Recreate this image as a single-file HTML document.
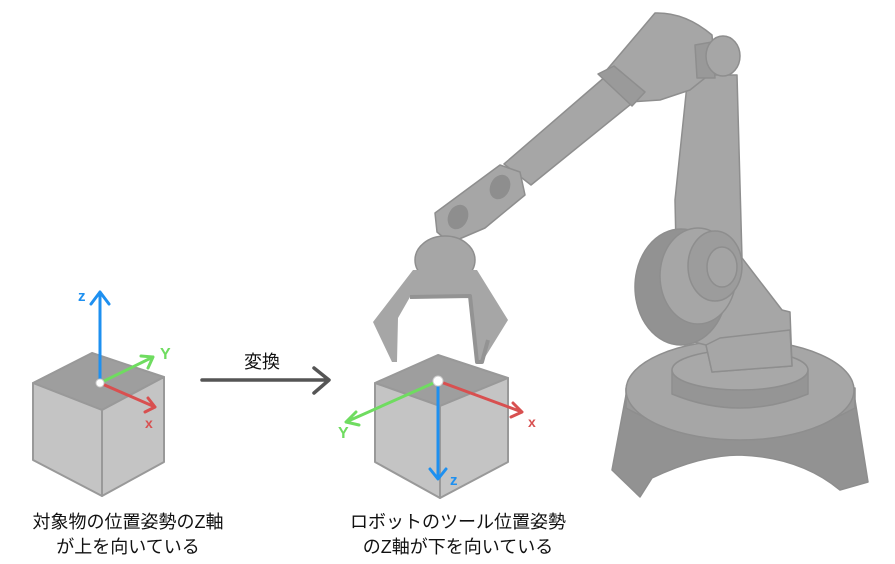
<!DOCTYPE html>
<html><head><meta charset="utf-8"><style>
html,body{margin:0;padding:0;background:#fff;width:895px;height:564px;overflow:hidden}
svg{display:block}
text{font-family:"Liberation Sans","Noto Sans CJK JP",sans-serif}
</style></head><body>
<svg width="895" height="564" viewBox="0 0 895 564" xmlns="http://www.w3.org/2000/svg">
<g stroke="#8e8e8e" stroke-width="1.5" stroke-linejoin="round">
<!-- legs -->
<path d="M626 395 L612 470 L640 497 L652 478 Q700 455 740 455 Q800 457 840 490 L868 482 L855 400 Z" fill="#929292"/>
<!-- base rim -->
<path d="M626 388 L626 408 Q740 470 855 408 L855 388 Z" fill="#999"/>
<ellipse cx="740" cy="390" rx="114" ry="50" fill="#a6a6a6"/>
<path d="M672 370 L672 394 Q740 422 808 394 L808 370 Z" fill="#959595"/>
<ellipse cx="740" cy="370" rx="68" ry="20" fill="#a8a8a8"/>
<!-- tower -->
<path d="M688 75 L737 75 L742 258 L782 310 L790 312 L792 366 L712 372 L706 345 L678 338 L675 200 Z" fill="#a6a6a6"/>
<ellipse cx="681" cy="287" rx="46" ry="58" fill="#929292"/>
<path d="M712 372 L706 345 L720 338 L790 330 L792 366 Z" fill="#a6a6a6"/>
<ellipse cx="698" cy="276" rx="38" ry="48" fill="#a6a6a6"/>
<ellipse cx="715" cy="266" rx="27" ry="35" fill="#9c9c9c"/>
<ellipse cx="722" cy="267" rx="15" ry="20" fill="#a4a4a4"/>
<!-- shoulder -->
<path d="M605 72 L655 13 Q685 12 712 35 L715 70 L690 90 L660 100 L630 102 Z" fill="#a6a6a6"/>
<path d="M695 45 L712 42 L715 78 L697 78 Z" fill="#999"/>
<ellipse cx="723" cy="56" rx="17" ry="20" fill="#a6a6a6"/>
<!-- upper arm tube -->
<path d="M606 76 L636 100 L531 185 L504 164 Z" fill="#a6a6a6"/>
<path d="M598 74 L614 66 L645 92 L632 106 Z" fill="#9a9a9a"/>
<!-- forearm link -->
<path d="M435 213 L500 165 L520 172 L525 195 L485 228 L450 243 L437 232 Z" fill="#a6a6a6"/>
<ellipse cx="500" cy="187" rx="9" ry="12" fill="#8e8e8e" transform="rotate(25 500 187)"/>
<ellipse cx="458" cy="217" rx="9" ry="12" fill="#8e8e8e" transform="rotate(25 458 217)"/>
<ellipse cx="445" cy="260" rx="30" ry="24" fill="#a6a6a6"/>
<!-- gripper -->
<path d="M413 270 L477 270 L508 320 L482 362 L477 362 L470 298 L410 297 L398 318 L397 362 L392 362 L373 322 Z" fill="#a6a6a6" stroke="none"/>
<path d="M410 297 L470 296 L477 362 L482 362 L488 340" fill="none" stroke="#939393" stroke-width="4"/>
</g>
<!-- left cube -->
<g stroke="#999" stroke-width="2" stroke-linejoin="round">
<path d="M33 383 L92 353 L164 377 L102 410 Z" fill="#9e9e9e"/>
<path d="M33 383 L102 410 L102 496 L33 460 Z" fill="#c4c4c4"/>
<path d="M102 410 L164 377 L164 462 L102 496 Z" fill="#c4c4c4"/>
</g>
<g stroke-width="3" stroke-linecap="round" stroke-linejoin="round" fill="none">
<path d="M100 383 L100 292 M91 304 L100 292 L109 304" stroke="#1e90f0"/>
<path d="M100 383 L153 357 M141 356 L153 357 L148 368" stroke="#6fdc60"/>
<path d="M100 383 L155 407 M148 398 L155 407 L145 412" stroke="#d85050"/>
</g>
<circle cx="100" cy="383" r="4" fill="#fff" stroke="#ccc"/>
<text x="78" y="301" font-size="15" fill="#1e90f0" font-weight="bold">z</text>
<text x="160" y="359" font-size="16" fill="#6fdc60" font-weight="bold">Y</text>
<text x="145" y="428" font-size="14" fill="#d85050" font-weight="bold">x</text>
<!-- transform arrow -->
<path d="M202 380 L328 380 M314 368 L329 380 L314 393" stroke="#555" stroke-width="3.5" fill="none" stroke-linecap="round" stroke-linejoin="round"/>
<text x="262" y="368" font-size="18" fill="#111" text-anchor="middle">変換</text>
<!-- right cube -->
<g stroke="#999" stroke-width="2" stroke-linejoin="round">
<path d="M375 383 L438 355 L508 378 L440 406 Z" fill="#9e9e9e"/>
<path d="M375 383 L440 406 L440 498 L375 462 Z" fill="#c4c4c4"/>
<path d="M440 406 L508 378 L508 462 L440 498 Z" fill="#c4c4c4"/>
</g>
<g stroke-width="3" stroke-linecap="round" stroke-linejoin="round" fill="none">
<path d="M438 381 L438 478 M430 469 L438 479 L446 469" stroke="#1e90f0"/>
<path d="M438 381 L346 422 M356 412 L346 422 L359 425" stroke="#6fdc60"/>
<path d="M438 381 L522 412 M513 403 L522 412 L511 417" stroke="#d85050"/>
</g>
<circle cx="438" cy="381" r="5" fill="#fff" stroke="#ccc"/>
<text x="450" y="485" font-size="15" fill="#1e90f0" font-weight="bold">z</text>
<text x="338" y="438" font-size="16" fill="#6fdc60" font-weight="bold">Y</text>
<text x="528" y="427" font-size="14" fill="#d85050" font-weight="bold">x</text>
<!-- captions -->
<g font-size="18" fill="#111" text-anchor="middle">
<text x="128" y="528">対象物の位置姿勢のZ軸</text>
<text x="128" y="553">が上を向いている</text>
<text x="458" y="528">ロボットのツール位置姿勢</text>
<text x="458" y="553">のZ軸が下を向いている</text>
</g>
</svg>
</body></html>
